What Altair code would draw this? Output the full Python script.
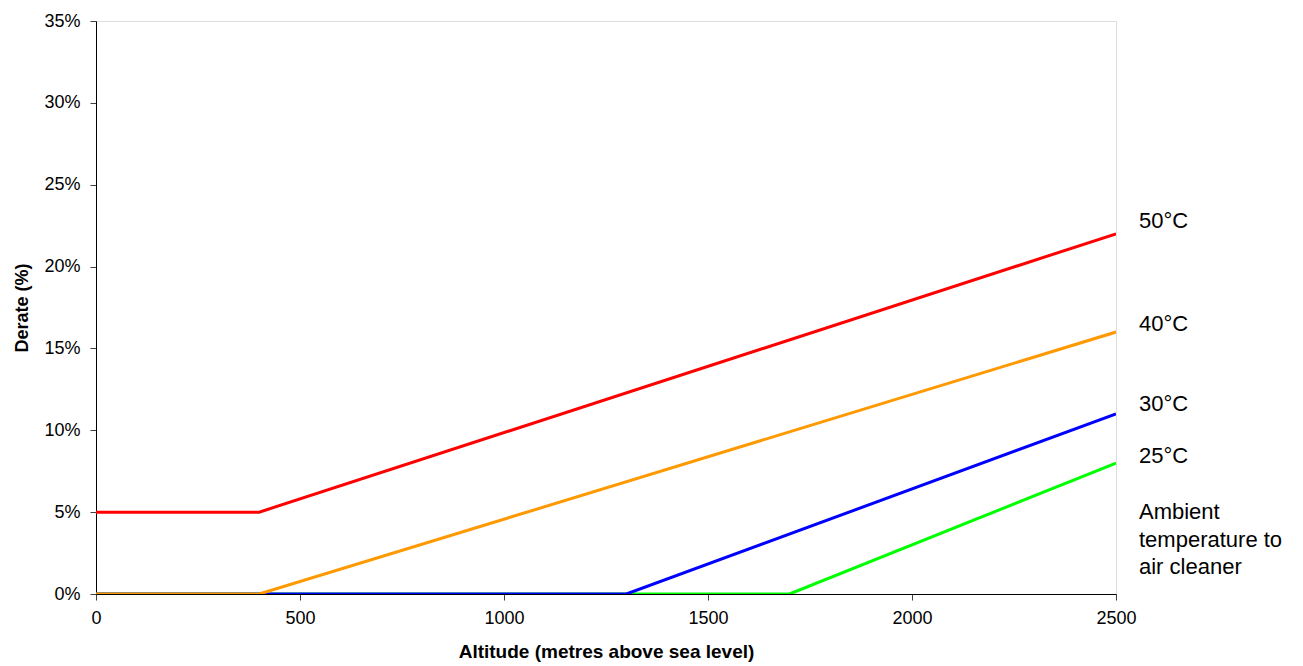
import altair as alt
import pandas as pd

# Data (altitude in metres, derate in %)
series_names = ["25°C", "30°C", "40°C", "50°C"]
alt_25 = [0, 1700, 2500]
der_25 = [0, 0, 8]
alt_30 = [0, 1300, 2500]
der_30 = [0, 0, 11]
alt_40 = [0, 400, 2500]
der_40 = [0, 0, 16]
alt_50 = [0, 400, 2500]
der_50 = [5, 5, 22]
colors = ["#00FF00", "#0000FF", "#FF9900", "#FF0000"]

label_texts = ["50°C", "40°C", "30°C", "25°C"]
label_y = [22.8, 16.5, 11.6, 8.4]
note_lines = ["Ambient", "temperature to", "air cleaner"]
note_y = 5.6

x_ticks = [0, 500, 1000, 1500, 2000, 2500]
y_ticks = [0, 5, 10, 15, 20, 25, 30, 35]

FONT = "Liberation Sans"

xs = alt.X("alt:Q", scale=alt.Scale(domain=[0, 2500], nice=False),
           axis=alt.Axis(values=x_ticks, format="d", title="Altitude (metres above sea level)",
                         grid=False, domainColor="black", tickColor="#404040",
                         tickSize=6, labelFontSize=18, labelFont=FONT, labelColor="black",
                         labelPadding=9, titleFont=FONT, titleFontSize=19,
                         titleFontWeight="bold", titleColor="black", titlePadding=15,
                         labelFlush=False))
ys = alt.Y("der:Q", scale=alt.Scale(domain=[0, 35], nice=False),
           axis=alt.Axis(values=y_ticks, labelExpr="datum.value + '%'", title="Derate (%)",
                         grid=False, domainColor="black", tickColor="#404040",
                         tickSize=6, labelFontSize=18, labelFont=FONT, labelColor="black",
                         labelPadding=10, titleFont=FONT, titleFontSize=18,
                         titleFontWeight="bold", titleColor="black", titlePadding=12,
                         labelFlush=False))

layers = []
for name, a, d, c in zip(series_names, [alt_25, alt_30, alt_40, alt_50],
                         [der_25, der_30, der_40, der_50], colors):
    df = pd.DataFrame({"alt": a, "der": d, "series": name})
    layers.append(alt.Chart(df).mark_line(color=c, strokeWidth=3, clip=True).encode(x=xs, y=ys))

lab_df = pd.DataFrame({"alt": [2500] * 4, "der": label_y, "txt": label_texts})
labels = alt.Chart(lab_df).mark_text(align="left", baseline="middle", dx=23, fontSize=22,
                                     font=FONT, color="black").encode(
    x=alt.X("alt:Q"), y=alt.Y("der:Q"), text="txt:N")

note_df = pd.DataFrame({"alt": [2500], "der": [note_y]})
note = alt.Chart(note_df).mark_text(align="left", baseline="top", dx=23, fontSize=22,
                                    font=FONT, color="black", lineHeight=27.5,
                                    text=note_lines).encode(
    x=alt.X("alt:Q"), y=alt.Y("der:Q"))

chart = alt.layer(*layers, labels, note).properties(
    width=1020, height=573,
    padding={"left": 88, "top": 13, "right": 179, "bottom": 72},
    autosize=alt.AutoSizeParams(type="none"),
).configure_view(stroke="#808080", strokeWidth=1.5).configure(background="white")

chart.save("out.html", embed_options={"renderer": "svg", "actions": False})
